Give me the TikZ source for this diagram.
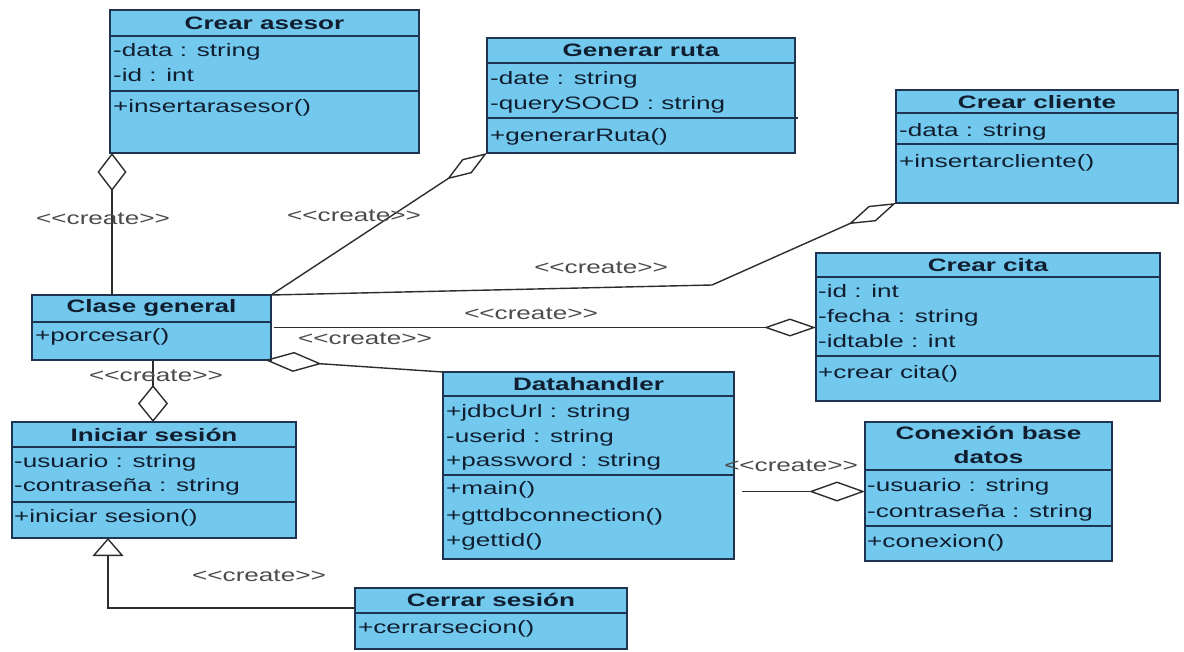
\documentclass[tikz,border=0pt]{standalone}
\usepackage{fontspec}
\usetikzlibrary{arrows.meta,calc}
\newfontfamily\umlfont{Liberation Sans}[FakeStretch=1.45]
\definecolor{clsfill}{RGB}{115,200,238}
\definecolor{clsline}{RGB}{30,52,80}
\definecolor{txt}{RGB}{16,30,48}
\definecolor{lblgray}{RGB}{75,75,75}
\definecolor{linkc}{RGB}{45,45,45}

\begin{document}
\begin{tikzpicture}[x=1pt,y=-1pt,
  cls/.style={draw=clsline, fill=clsfill, line width=1.6pt, anchor=north west, inner sep=0pt, outer sep=0pt},
  sep/.style={draw=clsline, line width=1.6pt},
  ttl/.style={font=\umlfont\bfseries\fontsize{18}{22}\selectfont, text=txt, inner sep=0pt},
  mem/.style={font=\umlfont\fontsize{18}{22}\selectfont, text=txt, anchor=west, inner sep=0pt, text height=13pt, text depth=4pt},
  lbl/.style={font=\umlfont\fontsize{18}{22}\selectfont, text=lblgray, inner sep=0pt},
  link/.style={draw=linkc, line width=1.4pt},
  agg/.style={link, -{Diamond[open, length=#1]}},
]
\fill[white] (0,0) rectangle (1184,651);
\useasboundingbox (0,0) rectangle (1184,651);

% ---- Crear asesor
\node[cls, minimum width=309pt, minimum height=143pt] (asesor) at (110,10) {};
\draw[sep] (110,36) -- (419,36) (110,91) -- (419,91);
\node[ttl] (asesor-t) at (264.5,23) {Crear asesor};
\node[mem] (asesor-a1) at (113,52) {-data : string};
\node[mem] (asesor-a2) at (113,77) {-id : int};
\node[mem] (asesor-m1) at (113,108) {+insertarasesor()};

% ---- Generar ruta
\node[cls, minimum width=308pt, minimum height=115pt] (ruta) at (487,38) {};
\draw[sep] (487,63) -- (795,63) (487,118) -- (798,118);
\node[ttl] (ruta-t) at (641,50.5) {Generar ruta};
\node[mem] (ruta-a1) at (490,80) {-date : string};
\node[mem] (ruta-a2) at (490,105) {-querySOCD : string};
\node[mem] (ruta-m1) at (490,137) {+generarRuta()};

% ---- Crear cliente
\node[cls, minimum width=282pt, minimum height=113pt] (cliente) at (896,90) {};
\draw[sep] (896,113) -- (1178,113) (896,144) -- (1178,144);
\node[ttl] (cliente-t) at (1037,102) {Crear cliente};
\node[mem] (cliente-a1) at (899,132) {-data : string};
\node[mem] (cliente-m1) at (899,163) {+insertarcliente()};

% ---- Crear cita
\node[cls, minimum width=344pt, minimum height=148pt] (cita) at (816,253) {};
\draw[sep] (816,277) -- (1160,277) (816,356) -- (1160,356);
\node[ttl] (cita-t) at (988,265) {Crear cita};
\node[mem] (cita-a1) at (818,293) {-id : int};
\node[mem] (cita-a2) at (818,318) {-fecha : string};
\node[mem] (cita-a3) at (818,343) {-idtable : int};
\node[mem] (cita-m1) at (818,374) {+crear cita()};

% ---- Clase general
\node[cls, minimum width=239pt, minimum height=65pt] (general) at (32,295) {};
\draw[sep] (32,322) -- (271,322);
\node[ttl] (general-t) at (151.5,308) {Clase general};
\node[mem] (general-m1) at (35,337) {+porcesar()};

% ---- Iniciar sesion
\node[cls, minimum width=284pt, minimum height=116pt] (iniciar) at (12,422) {};
\draw[sep] (12,447) -- (296,447) (12,502) -- (296,502);
\node[ttl] (iniciar-t) at (154,434.5) {Iniciar sesión};
\node[mem] (iniciar-a1) at (14,463) {-usuario : string};
\node[mem] (iniciar-a2) at (14,487) {-contraseña : string};
\node[mem] (iniciar-m1) at (14,518) {+iniciar sesion()};

% ---- Cerrar sesion
\node[cls, minimum width=272pt, minimum height=61pt] (cerrar) at (355,588) {};
\draw[sep] (355,613) -- (627,613);
\node[ttl] (cerrar-t) at (491,600) {Cerrar sesión};
\node[mem] (cerrar-m1) at (358,629) {+cerrarsecion()};

% ---- Datahandler
\node[cls, minimum width=291pt, minimum height=187pt] (datah) at (443,372) {};
\draw[sep] (443,396) -- (734,396) (443,475) -- (734,475);
\node[ttl] (datah-t) at (588.5,384) {Datahandler};
\node[mem] (datah-a1) at (446,413) {+jdbcUrl : string};
\node[mem] (datah-a2) at (446,438) {-userid : string};
\node[mem] (datah-a3) at (446,462) {+password : string};
\node[mem] (datah-m1) at (446,490) {+main()};
\node[mem] (datah-m2) at (446,517) {+gttdbconnection()};
\node[mem] (datah-m3) at (446,542) {+gettid()};

% ---- Conexion base datos
\node[cls, minimum width=247pt, minimum height=139pt] (conexion) at (865,422) {};
\draw[sep] (865,470) -- (1112,470) (865,526) -- (1112,526);
\node[ttl] (conexion-t1) at (988.5,433) {Conexión base};
\node[ttl] (conexion-t2) at (988.5,457) {datos};
\node[mem] (conexion-a1) at (867,487) {-usuario : string};
\node[mem] (conexion-a2) at (867,513) {-contraseña : string};
\node[mem] (conexion-m1) at (867,543) {+conexion()};

% ---- connectors
\draw[link, -{Diamond[open, length=38pt, width=29pt]}]
  ([xshift=80pt]general.north west) -- ([xshift=2pt]asesor.south west);
\draw[link, -{Diamond[open, length=48pt, width=17pt]}]
  (general.north east) -- (ruta.south west);
\coordinate (cbend) at (712,285);
\draw[link, -{Diamond[open, length=52pt, width=17pt]}]
  (general.north east) -- (cbend) -- (cliente.south west);
\draw[link, -{Diamond[open, length=52pt, width=18pt]}]
  ([xshift=3pt]general.east) -- (general.east -| cita.west);
\draw[link, -{Diamond[open, length=57pt, width=20pt]}]
  (datah.north west) -- ([xshift=-6pt]general.south east);
\draw[link, -{Diamond[open, length=37pt, width=30pt]}]
  ([xshift=121pt]general.south west) -- ([xshift=141pt]iniciar.north west);
\draw[link, -{Triangle[open, length=18pt, width=31pt]}]
  ([yshift=-20pt]cerrar.north west) -| ([xshift=96pt]iniciar.south west);
\draw[link, -{Diamond[open, length=56pt, width=20pt]}]
  ([xshift=8pt]datah.east |- conexion.west) -- (conexion.west);

% ---- stereotype labels
\node[lbl] (l-asesor) at (103,219) {<<create>>};
\node[lbl] (l-ruta) at (354,216) {<<create>>};
\node[lbl] (l-cliente) at (601,268) {<<create>>};
\node[lbl] (l-cita) at (531,314) {<<create>>};
\node[lbl] (l-datah) at (365,339) {<<create>>};
\node[lbl] (l-iniciar) at (156,376) {<<create>>};
\node[lbl] (l-cerrar) at (259,576) {<<create>>};
\node[lbl] (l-conexion) at (791,466) {<<create>>};
\end{tikzpicture}
\end{document}
